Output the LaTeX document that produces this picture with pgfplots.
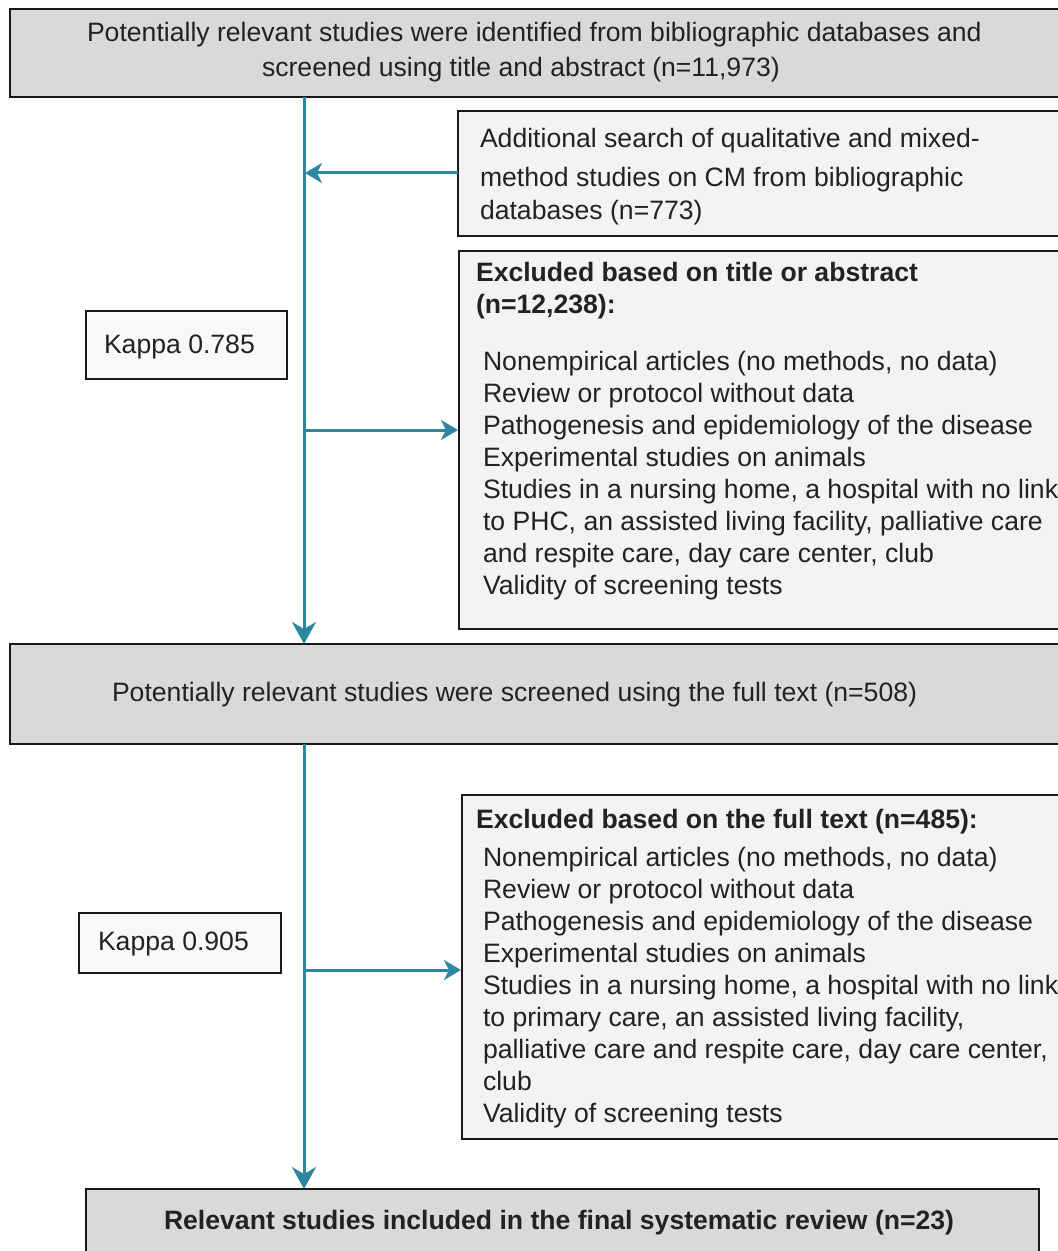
\documentclass[border=0pt]{standalone}
\usepackage{pgfplots}
\pgfplotsset{compat=1.18}
\usepackage{fontspec}
\setmainfont{Liberation Sans}
\usetikzlibrary{arrows.meta}
\definecolor{boxgray}{HTML}{D9D9D9}
\definecolor{boxlight}{HTML}{F2F3F5}
\definecolor{kappafill}{HTML}{F7F9F9}
\definecolor{flowteal}{HTML}{2E87A0}
\definecolor{edge}{HTML}{1A1A1A}
\definecolor{txt}{HTML}{222222}
\begin{document}
\begin{tikzpicture}
\begin{axis}[
  scale only axis, width=529pt, height=625.5pt,
  xmin=0, xmax=1058, ymin=0, ymax=1251, y dir=reverse,
  axis lines=none, ticks=none, clip=true,
]
\tikzset{
  rt/.style={font=\fontsize{13.3}{16}\selectfont, anchor=base west, inner sep=0pt, outer sep=0pt, text=txt},
  bt/.style={font=\fontsize{13.3}{16}\selectfont\bfseries, anchor=base west, inner sep=0pt, outer sep=0pt, text=txt},
  bx/.style={draw=edge, line width=1.2pt},
}
% boxes
\draw[bx, fill=boxgray]  (axis cs:10,9)    rectangle (axis cs:1070,97);
\draw[bx, fill=boxlight] (axis cs:458,111) rectangle (axis cs:1070,236);
\draw[bx, fill=boxlight] (axis cs:459,251) rectangle (axis cs:1070,629);
\draw[bx, fill=kappafill] (axis cs:86,311) rectangle (axis cs:287,379);
\draw[bx, fill=boxgray]  (axis cs:10,644)  rectangle (axis cs:1070,744);
\draw[bx, fill=boxlight] (axis cs:462,795) rectangle (axis cs:1070,1139);
\draw[bx, fill=kappafill] (axis cs:79,913) rectangle (axis cs:281,973);
\draw[bx, fill=boxgray]  (axis cs:86,1189) rectangle (axis cs:1039,1265);

% arrows
\addplot[flowteal, line width=1.5pt, -{Stealth[length=11pt,width=12pt,inset=3.5pt]}] coordinates {(304,97) (304,644)};
\addplot[flowteal, line width=1.5pt, -{Stealth[length=11pt,width=12pt,inset=3.5pt]}] coordinates {(304,744) (304,1189)};
\addplot[flowteal, line width=1.5pt, -{Stealth[length=8.5pt,width=10pt,inset=2.5pt]}] coordinates {(458,173) (305,173)};
\addplot[flowteal, line width=1.5pt, -{Stealth[length=8.5pt,width=10pt,inset=2.5pt]}] coordinates {(304,430) (458,430)};
\addplot[flowteal, line width=1.5pt, -{Stealth[length=8.5pt,width=10pt,inset=2.5pt]}] coordinates {(304,970) (461,970)};

% box 1
\node[rt] at (axis cs:87,42) {Potentially relevant studies were identified from bibliographic databases and};
\node[rt] at (axis cs:262,77) {screened using title and abstract (n=11,973)};
% box 2
\node[rt] at (axis cs:480,148) {Additional search of qualitative and mixed-};
\node[rt] at (axis cs:480,187) {method studies on CM from bibliographic};
\node[rt] at (axis cs:480,220) {databases (n=773)};
% box 3
\node[bt] at (axis cs:476,282) {Excluded based on title or abstract};
\node[bt] at (axis cs:476,314) {(n=12,238):};
\node[rt] at (axis cs:483,370) {Nonempirical articles (no methods, no data)};
\node[rt] at (axis cs:483,402) {Review or protocol without data};
\node[rt] at (axis cs:483,434) {Pathogenesis and epidemiology of the disease};
\node[rt] at (axis cs:483,466) {Experimental studies on animals};
\node[rt] at (axis cs:483,498) {Studies in a nursing home, a hospital with no link};
\node[rt] at (axis cs:483,530) {to PHC, an assisted living facility, palliative care};
\node[rt] at (axis cs:483,562) {and respite care, day care center, club};
\node[rt] at (axis cs:483,594) {Validity of screening tests};
% kappa 1
\node[rt] at (axis cs:104,353) {Kappa 0.785};
% box 4
\node[rt] at (axis cs:112,701) {Potentially relevant studies were screened using the full text (n=508)};
% box 5
\node[bt] at (axis cs:476,828) {Excluded based on the full text (n=485):};
\node[rt] at (axis cs:483,866) {Nonempirical articles (no methods, no data)};
\node[rt] at (axis cs:483,898) {Review or protocol without data};
\node[rt] at (axis cs:483,930) {Pathogenesis and epidemiology of the disease};
\node[rt] at (axis cs:483,962) {Experimental studies on animals};
\node[rt] at (axis cs:483,994) {Studies in a nursing home, a hospital with no link};
\node[rt] at (axis cs:483,1026) {to primary care, an assisted living facility,};
\node[rt] at (axis cs:483,1058) {palliative care and respite care, day care center,};
\node[rt] at (axis cs:483,1090) {club};
\node[rt] at (axis cs:483,1122) {Validity of screening tests};
% kappa 2
\node[rt] at (axis cs:98,950) {Kappa 0.905};
% box 6
\node[bt] at (axis cs:164,1229) {Relevant studies included in the final systematic review (n=23)};
\end{axis}
\pgfresetboundingbox
\useasboundingbox (current axis.south west) rectangle (current axis.north east);
\end{tikzpicture}
\end{document}
